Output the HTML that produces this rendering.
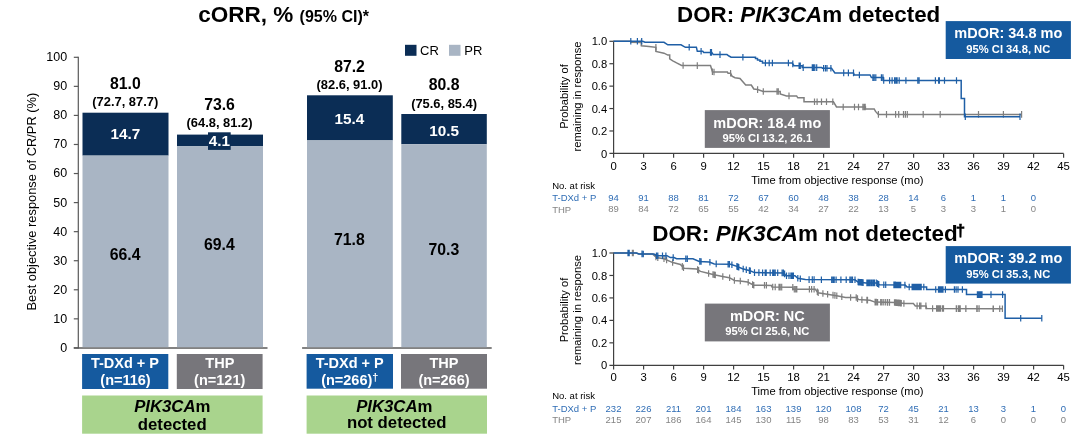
<!DOCTYPE html>
<html><head><meta charset="utf-8"><title>cORR and DOR by PIK3CAm status</title>
<style>
html,body{margin:0;padding:0;background:#fff;}
body{width:1080px;height:438px;overflow:hidden;}
svg{display:block;font-family:"Liberation Sans",Arial,Helvetica,sans-serif;}
</style></head><body>
<svg width="1080" height="438" viewBox="0 0 1080 438">
<rect width="1080" height="438" fill="#fff"/>
<text x="198.3" y="22" font-size="22.5" font-weight="bold" fill="#000">cORR, % <tspan font-size="16">(95% CI)*</tspan></text>
<rect x="405" y="44.8" width="11.5" height="11.0" fill="#0b2d55"/>
<text x="420" y="54.9" font-size="13" font-weight="normal" text-anchor="start" fill="#000">CR</text>
<rect x="449" y="44.8" width="11.5" height="11.0" fill="#a9b5c4"/>
<text x="464.3" y="54.9" font-size="13" font-weight="normal" text-anchor="start" fill="#000">PR</text>
<text transform="translate(36.4,201.6) rotate(-90)" font-size="12.85" text-anchor="middle" fill="#000">Best objective response of CR/PR (%)</text>
<text x="67.1" y="351.8" font-size="12.5" font-weight="normal" text-anchor="end" fill="#000">0</text>
<line x1="73.8" y1="347.90" x2="78.3" y2="347.90" stroke="#595959" stroke-width="1.2"/>
<text x="67.1" y="322.74" font-size="12.5" font-weight="normal" text-anchor="end" fill="#000">10</text>
<line x1="73.8" y1="318.84" x2="78.3" y2="318.84" stroke="#595959" stroke-width="1.2"/>
<text x="67.1" y="293.68" font-size="12.5" font-weight="normal" text-anchor="end" fill="#000">20</text>
<line x1="73.8" y1="289.78" x2="78.3" y2="289.78" stroke="#595959" stroke-width="1.2"/>
<text x="67.1" y="264.62" font-size="12.5" font-weight="normal" text-anchor="end" fill="#000">30</text>
<line x1="73.8" y1="260.72" x2="78.3" y2="260.72" stroke="#595959" stroke-width="1.2"/>
<text x="67.1" y="235.56" font-size="12.5" font-weight="normal" text-anchor="end" fill="#000">40</text>
<line x1="73.8" y1="231.66" x2="78.3" y2="231.66" stroke="#595959" stroke-width="1.2"/>
<text x="67.1" y="206.5" font-size="12.5" font-weight="normal" text-anchor="end" fill="#000">50</text>
<line x1="73.8" y1="202.60" x2="78.3" y2="202.60" stroke="#595959" stroke-width="1.2"/>
<text x="67.1" y="177.44" font-size="12.5" font-weight="normal" text-anchor="end" fill="#000">60</text>
<line x1="73.8" y1="173.54" x2="78.3" y2="173.54" stroke="#595959" stroke-width="1.2"/>
<text x="67.1" y="148.38" font-size="12.5" font-weight="normal" text-anchor="end" fill="#000">70</text>
<line x1="73.8" y1="144.48" x2="78.3" y2="144.48" stroke="#595959" stroke-width="1.2"/>
<text x="67.1" y="119.32" font-size="12.5" font-weight="normal" text-anchor="end" fill="#000">80</text>
<line x1="73.8" y1="115.42" x2="78.3" y2="115.42" stroke="#595959" stroke-width="1.2"/>
<text x="67.1" y="90.26" font-size="12.5" font-weight="normal" text-anchor="end" fill="#000">90</text>
<line x1="73.8" y1="86.36" x2="78.3" y2="86.36" stroke="#595959" stroke-width="1.2"/>
<text x="67.1" y="61.2" font-size="12.5" font-weight="normal" text-anchor="end" fill="#000">100</text>
<line x1="73.8" y1="57.30" x2="78.3" y2="57.30" stroke="#595959" stroke-width="1.2"/>
<line x1="78.3" y1="56.7" x2="78.3" y2="348.6" stroke="#595959" stroke-width="1.2"/>
<line x1="73.8" y1="347.9" x2="267.5" y2="347.9" stroke="#595959" stroke-width="1.5"/>
<line x1="302.1" y1="347.9" x2="491.7" y2="347.9" stroke="#595959" stroke-width="1.5"/>
<rect x="82.5" y="112.7" width="86.0" height="42.9" fill="#0b2d55"/>
<rect x="82.5" y="155.6" width="86.0" height="191.6" fill="#a9b5c4"/>
<rect x="177" y="134.6" width="86" height="11.7" fill="#0b2d55"/>
<rect x="177" y="146.3" width="86" height="200.9" fill="#a9b5c4"/>
<rect x="307" y="95.3" width="85.8" height="45.1" fill="#0b2d55"/>
<rect x="307" y="140.4" width="85.8" height="206.8" fill="#a9b5c4"/>
<rect x="401.3" y="114" width="85.5" height="30.2" fill="#0b2d55"/>
<rect x="401.3" y="144.2" width="85.5" height="203.0" fill="#a9b5c4"/>
<rect x="208" y="132.3" width="22.7" height="17.6" fill="#0b2d55"/>
<text x="125.3" y="89.19999999999999" font-size="15.8" font-weight="bold" text-anchor="middle" fill="#000">81.0</text>
<text x="125.3" y="106.1" font-size="12.9" font-weight="bold" text-anchor="middle" fill="#000">(72.7, 87.7)</text>
<text x="125.3" y="139.1" font-size="15.3" font-weight="bold" text-anchor="middle" fill="#fff">14.7</text>
<text x="125.1" y="259.7" font-size="15.8" font-weight="bold" text-anchor="middle" fill="#000">66.4</text>
<text x="219.5" y="109.5" font-size="15.8" font-weight="bold" text-anchor="middle" fill="#000">73.6</text>
<text x="219.5" y="127.3" font-size="12.9" font-weight="bold" text-anchor="middle" fill="#000">(64.8, 81.2)</text>
<text x="219.5" y="145.79999999999998" font-size="15.3" font-weight="bold" text-anchor="middle" fill="#fff">4.1</text>
<text x="219.3" y="249.9" font-size="15.8" font-weight="bold" text-anchor="middle" fill="#000">69.4</text>
<text x="349.5" y="71.5" font-size="15.8" font-weight="bold" text-anchor="middle" fill="#000">87.2</text>
<text x="349.5" y="89.1" font-size="12.9" font-weight="bold" text-anchor="middle" fill="#000">(82.6, 91.0)</text>
<text x="349.5" y="124.2" font-size="15.3" font-weight="bold" text-anchor="middle" fill="#fff">15.4</text>
<text x="349.3" y="245.1" font-size="15.8" font-weight="bold" text-anchor="middle" fill="#000">71.8</text>
<text x="444.1" y="90.0" font-size="15.8" font-weight="bold" text-anchor="middle" fill="#000">80.8</text>
<text x="444.1" y="107.8" font-size="12.9" font-weight="bold" text-anchor="middle" fill="#000">(75.6, 85.4)</text>
<text x="444.1" y="135.5" font-size="15.3" font-weight="bold" text-anchor="middle" fill="#fff">10.5</text>
<text x="443.90000000000003" y="255.3" font-size="15.8" font-weight="bold" text-anchor="middle" fill="#000">70.3</text>
<rect x="82.1" y="354" width="86.2" height="35" fill="#155a9f"/>
<rect x="176.8" y="354" width="85.8" height="35" fill="#77767b"/>
<rect x="306.6" y="354" width="86.4" height="34.7" fill="#155a9f"/>
<rect x="401" y="354" width="86" height="34.7" fill="#77767b"/>
<text x="125.0" y="368.1" font-size="14.5" font-weight="bold" text-anchor="middle" fill="#fff">T-DXd + P</text>
<text x="125.5" y="384.7" font-size="14.5" font-weight="bold" text-anchor="middle" fill="#fff">(n=116)</text>
<text x="219.8" y="368.1" font-size="14.5" font-weight="bold" text-anchor="middle" fill="#fff">THP</text>
<text x="219.7" y="384.7" font-size="14.5" font-weight="bold" text-anchor="middle" fill="#fff">(n=121)</text>
<text x="349.7" y="368.1" font-size="14.5" font-weight="bold" text-anchor="middle" fill="#fff">T-DXd + P</text>
<text x="349.8" y="384.7" font-size="14.5" font-weight="bold" text-anchor="middle" fill="#fff">(n=266)<tspan font-size="11" dy="-3.6">†</tspan></text>
<text x="444" y="368.1" font-size="14.5" font-weight="bold" text-anchor="middle" fill="#fff">THP</text>
<text x="444" y="384.7" font-size="14.5" font-weight="bold" text-anchor="middle" fill="#fff">(n=266)</text>
<rect x="82.1" y="395.5" width="180.5" height="38.2" fill="#a9d48d"/>
<rect x="306.6" y="395.5" width="180.4" height="38.2" fill="#a9d48d"/>
<text x="172.3" y="411.6" font-size="16.75" font-weight="bold" text-anchor="middle"><tspan font-style="italic">PIK3CA</tspan>m</text>
<text x="172.2" y="430.0" font-size="16.75" font-weight="bold" text-anchor="middle" fill="#000">detected</text>
<text x="394.3" y="411.6" font-size="16.75" font-weight="bold" text-anchor="middle"><tspan font-style="italic">PIK3CA</tspan>m</text>
<text x="396.7" y="428.1" font-size="16.75" font-weight="bold" text-anchor="middle" fill="#000">not detected</text>
<text x="677" y="22" font-size="22.35" font-weight="bold" fill="#000">DOR: <tspan font-style="italic">PIK3CA</tspan>m detected</text>
<line x1="613.6" y1="40.699999999999996" x2="613.6" y2="154.0" stroke="#404040" stroke-width="1.2"/>
<line x1="609.4" y1="153.4" x2="1063.6" y2="153.4" stroke="#404040" stroke-width="1.2"/>
<text x="607.2" y="157.5" font-size="11.2" font-weight="normal" text-anchor="end" fill="#000">0</text>
<line x1="609.4" y1="130.98" x2="613.6" y2="130.98" stroke="#404040" stroke-width="1.2"/>
<text x="607.2" y="135.08" font-size="11.2" font-weight="normal" text-anchor="end" fill="#000">0.2</text>
<line x1="609.4" y1="108.56" x2="613.6" y2="108.56" stroke="#404040" stroke-width="1.2"/>
<text x="607.2" y="112.66" font-size="11.2" font-weight="normal" text-anchor="end" fill="#000">0.4</text>
<line x1="609.4" y1="86.14" x2="613.6" y2="86.14" stroke="#404040" stroke-width="1.2"/>
<text x="607.2" y="90.24" font-size="11.2" font-weight="normal" text-anchor="end" fill="#000">0.6</text>
<line x1="609.4" y1="63.72" x2="613.6" y2="63.72" stroke="#404040" stroke-width="1.2"/>
<text x="607.2" y="67.82" font-size="11.2" font-weight="normal" text-anchor="end" fill="#000">0.8</text>
<line x1="609.4" y1="41.30" x2="613.6" y2="41.30" stroke="#404040" stroke-width="1.2"/>
<text x="607.2" y="45.4" font-size="11.2" font-weight="normal" text-anchor="end" fill="#000">1.0</text>
<line x1="613.6" y1="153.4" x2="613.6" y2="157.70000000000002" stroke="#404040" stroke-width="1.2"/>
<text x="613.6" y="170.0" font-size="11.3" font-weight="normal" text-anchor="middle" fill="#000">0</text>
<line x1="643.6" y1="153.4" x2="643.6" y2="157.70000000000002" stroke="#404040" stroke-width="1.2"/>
<text x="643.6" y="170.0" font-size="11.3" font-weight="normal" text-anchor="middle" fill="#000">3</text>
<line x1="673.6" y1="153.4" x2="673.6" y2="157.70000000000002" stroke="#404040" stroke-width="1.2"/>
<text x="673.6" y="170.0" font-size="11.3" font-weight="normal" text-anchor="middle" fill="#000">6</text>
<line x1="703.6" y1="153.4" x2="703.6" y2="157.70000000000002" stroke="#404040" stroke-width="1.2"/>
<text x="703.6" y="170.0" font-size="11.3" font-weight="normal" text-anchor="middle" fill="#000">9</text>
<line x1="733.6" y1="153.4" x2="733.6" y2="157.70000000000002" stroke="#404040" stroke-width="1.2"/>
<text x="733.6" y="170.0" font-size="11.3" font-weight="normal" text-anchor="middle" fill="#000">12</text>
<line x1="763.6" y1="153.4" x2="763.6" y2="157.70000000000002" stroke="#404040" stroke-width="1.2"/>
<text x="763.6" y="170.0" font-size="11.3" font-weight="normal" text-anchor="middle" fill="#000">15</text>
<line x1="793.6" y1="153.4" x2="793.6" y2="157.70000000000002" stroke="#404040" stroke-width="1.2"/>
<text x="793.6" y="170.0" font-size="11.3" font-weight="normal" text-anchor="middle" fill="#000">18</text>
<line x1="823.6" y1="153.4" x2="823.6" y2="157.70000000000002" stroke="#404040" stroke-width="1.2"/>
<text x="823.6" y="170.0" font-size="11.3" font-weight="normal" text-anchor="middle" fill="#000">21</text>
<line x1="853.6" y1="153.4" x2="853.6" y2="157.70000000000002" stroke="#404040" stroke-width="1.2"/>
<text x="853.6" y="170.0" font-size="11.3" font-weight="normal" text-anchor="middle" fill="#000">24</text>
<line x1="883.6" y1="153.4" x2="883.6" y2="157.70000000000002" stroke="#404040" stroke-width="1.2"/>
<text x="883.6" y="170.0" font-size="11.3" font-weight="normal" text-anchor="middle" fill="#000">27</text>
<line x1="913.6" y1="153.4" x2="913.6" y2="157.70000000000002" stroke="#404040" stroke-width="1.2"/>
<text x="913.6" y="170.0" font-size="11.3" font-weight="normal" text-anchor="middle" fill="#000">30</text>
<line x1="943.6" y1="153.4" x2="943.6" y2="157.70000000000002" stroke="#404040" stroke-width="1.2"/>
<text x="943.6" y="170.0" font-size="11.3" font-weight="normal" text-anchor="middle" fill="#000">33</text>
<line x1="973.6" y1="153.4" x2="973.6" y2="157.70000000000002" stroke="#404040" stroke-width="1.2"/>
<text x="973.6" y="170.0" font-size="11.3" font-weight="normal" text-anchor="middle" fill="#000">36</text>
<line x1="1003.6" y1="153.4" x2="1003.6" y2="157.70000000000002" stroke="#404040" stroke-width="1.2"/>
<text x="1003.6" y="170.0" font-size="11.3" font-weight="normal" text-anchor="middle" fill="#000">39</text>
<line x1="1033.6" y1="153.4" x2="1033.6" y2="157.70000000000002" stroke="#404040" stroke-width="1.2"/>
<text x="1033.6" y="170.0" font-size="11.3" font-weight="normal" text-anchor="middle" fill="#000">42</text>
<line x1="1063.6" y1="153.4" x2="1063.6" y2="157.70000000000002" stroke="#404040" stroke-width="1.2"/>
<text x="1063.6" y="170.0" font-size="11.3" font-weight="normal" text-anchor="middle" fill="#000">45</text>
<text x="837.4" y="183.9" font-size="11.2" font-weight="normal" text-anchor="middle" fill="#000">Time from objective response (mo)</text>
<text transform="translate(568.3,96.5) rotate(-90)" font-size="11.2" text-anchor="middle" fill="#000">Probability of</text>
<text transform="translate(580.7,96.5) rotate(-90)" font-size="11.2" text-anchor="middle" fill="#000">remaining in response</text>
<path d="M613.6,41.3 L630.8,41.3 L631.0,42.3 L641.4,42.6 L641.4,45.7 L649.0,46.5 L655.9,47.3 L655.9,51.4 L664.0,53.2 L667.8,55.1 L669.7,55.1 L669.7,58.9 L672.8,60.8 L676.6,62.9 L681.6,65.5 L710.5,65.6 L712.5,72.0 L727.4,72.0 L728.0,73.3 L730.6,73.3 L732.0,76.1 L735.0,77.7 L740.0,78.4 L745.7,85.0 L751.3,85.0 L753.8,89.0 L757.6,89.6 L763.3,91.5 L780.2,91.5 L780.2,94.0 L786.5,95.9 L796.6,95.9 L797.8,97.8 L804.0,97.8 L804.0,101.8 L833.4,101.8 L836.5,107.0 L865.4,107.0 L865.4,108.9 L874.2,108.9 L875.5,111.4 L878.4,114.4 L1021.6,114.4" fill="none" stroke="#7f7f7f" stroke-width="1.5" stroke-linejoin="miter"/>
<path d="M641.4,39.3V45.9M655.9,44.0V50.6M683.1,62.2V68.8M697.3,62.3V68.9M712.4,68.4V75.0M714.0,68.7V75.3M730.6,70.0V76.6M757.6,86.3V92.9M763.3,88.2V94.8M777.0,88.2V94.8M778.3,88.2V94.8M789.0,92.6V99.2M814.5,98.5V105.1M817.1,98.5V105.1M821.5,98.5V105.1M826.5,98.5V105.1M832.8,98.5V105.1M843.2,103.7V110.3M854.5,103.7V110.3M858.5,103.7V110.3M862.9,103.7V110.3M864.2,103.7V110.3M865.2,103.7V110.3M878.4,111.1V117.7M886.5,111.1V117.7M895.6,111.1V117.7M898.7,111.1V117.7M903.5,111.1V117.7M905.4,111.1V117.7M907.3,111.1V117.7M923.2,111.1V117.7M940.2,111.1V117.7M978.5,111.1V117.7M1003.4,111.1V117.7M1021.6,111.1V117.7" fill="none" stroke="#7f7f7f" stroke-width="1.2"/>
<path d="M613.6,41.3 L642.7,41.3 L645.0,42.3 L664.0,42.3 L667.8,44.8 L681.0,44.8 L685.4,47.3 L696.4,47.3 L697.3,51.3 L702.8,51.3 L703.7,52.4 L711.8,52.4 L713.3,54.6 L727.0,54.6 L729.0,56.0 L731.1,57.2 L753.8,57.2 L755.5,57.2 L755.5,58.5 L757.5,58.5 L757.5,60.0 L760.0,60.0 L760.0,61.3 L762.5,61.3 L762.5,63.0 L764.5,63.0 L792.2,63.0 L794.0,65.7 L802.2,65.7 L802.2,67.6 L821.7,67.6 L822.5,68.2 L831.5,68.2 L834.9,72.9 L853.5,72.9 L854.3,75.0 L870.1,75.0 L871.4,77.6 L883.3,77.6 L883.3,80.5 L961.2,80.5 L961.2,98.6 L964.5,98.6 L964.5,116.7 L1020.0,116.7" fill="none" stroke="#1f5fa6" stroke-width="1.5" stroke-linejoin="miter"/>
<path d="M630.8,38.0V44.6M637.4,38.0V44.6M641.7,38.0V44.6M689.2,44.0V50.6M701.1,48.0V54.6M710.5,49.1V55.7M711.5,49.1V55.7M720.0,51.3V57.9M742.9,53.9V60.5M765.4,59.7V66.3M769.2,59.7V66.3M772.4,59.7V66.3M788.4,59.7V66.3M792.8,60.6V67.2M799.1,62.4V69.0M800.3,62.4V69.0M803.2,64.3V70.9M812.3,64.3V70.9M813.5,64.3V70.9M814.8,64.3V70.9M816.7,64.3V70.9M823.6,64.9V71.5M825.5,64.9V71.5M827.0,64.9V71.5M830.9,64.9V71.5M843.7,69.6V76.2M848.4,69.6V76.2M853.5,69.6V76.2M859.4,71.7V78.3M872.9,74.3V80.9M874.2,74.3V80.9M875.8,74.3V80.9M881.4,74.3V80.9M882.9,74.3V80.9M883.7,77.2V83.8M889.6,77.2V83.8M892.1,77.2V83.8M894.6,77.2V83.8M895.9,77.2V83.8M897.1,77.2V83.8M899.2,77.2V83.8M905.9,77.2V83.8M917.8,77.2V83.8M919.1,77.2V83.8M935.4,77.2V83.8M938.6,77.2V83.8M939.4,77.2V83.8M944.5,77.2V83.8M956.5,77.2V83.8M965.3,113.4V120.0M1020.0,113.4V120.0" fill="none" stroke="#1f5fa6" stroke-width="1.2"/>
<rect x="945.7" y="21.1" width="125.2" height="37.9" fill="#155a9f"/>
<text x="1008.3000000000001" y="38.400000000000006" font-size="14.5" font-weight="bold" text-anchor="middle" fill="#fff">mDOR: 34.8 mo</text>
<text x="1008.3000000000001" y="52.800000000000004" font-size="11.2" font-weight="bold" text-anchor="middle" fill="#fff">95% CI 34.8, NC</text>
<rect x="704.8" y="110.1" width="125.1" height="37.8" fill="#77767b"/>
<text x="767.3499999999999" y="128.1" font-size="14.5" font-weight="bold" text-anchor="middle" fill="#fff">mDOR: 18.4 mo</text>
<text x="767.3499999999999" y="142.1" font-size="11.2" font-weight="bold" text-anchor="middle" fill="#fff">95% CI 13.2, 26.1</text>
<text x="552.2" y="188.8" font-size="9.5" font-weight="normal" text-anchor="start" fill="#000">No. at risk</text>
<text x="552.2" y="201" font-size="9.5" font-weight="normal" text-anchor="start" fill="#2f6db5">T-DXd + P</text>
<text x="552.2" y="212.7" font-size="9.5" font-weight="normal" text-anchor="start" fill="#848484">THP</text>
<text x="613.5" y="201" font-size="9.5" font-weight="normal" text-anchor="middle" fill="#2f6db5">94</text>
<text x="643.5" y="201" font-size="9.5" font-weight="normal" text-anchor="middle" fill="#2f6db5">91</text>
<text x="673.5" y="201" font-size="9.5" font-weight="normal" text-anchor="middle" fill="#2f6db5">88</text>
<text x="703.5" y="201" font-size="9.5" font-weight="normal" text-anchor="middle" fill="#2f6db5">81</text>
<text x="733.5" y="201" font-size="9.5" font-weight="normal" text-anchor="middle" fill="#2f6db5">72</text>
<text x="763.5" y="201" font-size="9.5" font-weight="normal" text-anchor="middle" fill="#2f6db5">67</text>
<text x="793.5" y="201" font-size="9.5" font-weight="normal" text-anchor="middle" fill="#2f6db5">60</text>
<text x="823.5" y="201" font-size="9.5" font-weight="normal" text-anchor="middle" fill="#2f6db5">48</text>
<text x="853.5" y="201" font-size="9.5" font-weight="normal" text-anchor="middle" fill="#2f6db5">38</text>
<text x="883.5" y="201" font-size="9.5" font-weight="normal" text-anchor="middle" fill="#2f6db5">28</text>
<text x="913.5" y="201" font-size="9.5" font-weight="normal" text-anchor="middle" fill="#2f6db5">14</text>
<text x="943.5" y="201" font-size="9.5" font-weight="normal" text-anchor="middle" fill="#2f6db5">6</text>
<text x="973.5" y="201" font-size="9.5" font-weight="normal" text-anchor="middle" fill="#2f6db5">1</text>
<text x="1003.5" y="201" font-size="9.5" font-weight="normal" text-anchor="middle" fill="#2f6db5">1</text>
<text x="1033.5" y="201" font-size="9.5" font-weight="normal" text-anchor="middle" fill="#2f6db5">0</text>
<text x="613.5" y="212.39999999999998" font-size="9.5" font-weight="normal" text-anchor="middle" fill="#848484">89</text>
<text x="643.5" y="212.39999999999998" font-size="9.5" font-weight="normal" text-anchor="middle" fill="#848484">84</text>
<text x="673.5" y="212.39999999999998" font-size="9.5" font-weight="normal" text-anchor="middle" fill="#848484">72</text>
<text x="703.5" y="212.39999999999998" font-size="9.5" font-weight="normal" text-anchor="middle" fill="#848484">65</text>
<text x="733.5" y="212.39999999999998" font-size="9.5" font-weight="normal" text-anchor="middle" fill="#848484">55</text>
<text x="763.5" y="212.39999999999998" font-size="9.5" font-weight="normal" text-anchor="middle" fill="#848484">42</text>
<text x="793.5" y="212.39999999999998" font-size="9.5" font-weight="normal" text-anchor="middle" fill="#848484">34</text>
<text x="823.5" y="212.39999999999998" font-size="9.5" font-weight="normal" text-anchor="middle" fill="#848484">27</text>
<text x="853.5" y="212.39999999999998" font-size="9.5" font-weight="normal" text-anchor="middle" fill="#848484">22</text>
<text x="883.5" y="212.39999999999998" font-size="9.5" font-weight="normal" text-anchor="middle" fill="#848484">13</text>
<text x="913.5" y="212.39999999999998" font-size="9.5" font-weight="normal" text-anchor="middle" fill="#848484">5</text>
<text x="943.5" y="212.39999999999998" font-size="9.5" font-weight="normal" text-anchor="middle" fill="#848484">3</text>
<text x="973.5" y="212.39999999999998" font-size="9.5" font-weight="normal" text-anchor="middle" fill="#848484">3</text>
<text x="1003.5" y="212.39999999999998" font-size="9.5" font-weight="normal" text-anchor="middle" fill="#848484">1</text>
<text x="1033.5" y="212.39999999999998" font-size="9.5" font-weight="normal" text-anchor="middle" fill="#848484">0</text>
<text x="652.2" y="240.9" font-size="22.45" font-weight="bold" fill="#000">DOR: <tspan font-style="italic">PIK3CA</tspan>m not detected<tspan font-size="17" dx="-2" dy="-4.5" stroke="#000" stroke-width="0.5">†</tspan></text>
<line x1="613.6" y1="252.4" x2="613.6" y2="365.90000000000003" stroke="#404040" stroke-width="1.2"/>
<line x1="609.4" y1="365.3" x2="1063.6" y2="365.3" stroke="#404040" stroke-width="1.2"/>
<text x="607.2" y="369.4" font-size="11.2" font-weight="normal" text-anchor="end" fill="#000">0</text>
<line x1="609.4" y1="342.84" x2="613.6" y2="342.84" stroke="#404040" stroke-width="1.2"/>
<text x="607.2" y="346.94" font-size="11.2" font-weight="normal" text-anchor="end" fill="#000">0.2</text>
<line x1="609.4" y1="320.38" x2="613.6" y2="320.38" stroke="#404040" stroke-width="1.2"/>
<text x="607.2" y="324.48" font-size="11.2" font-weight="normal" text-anchor="end" fill="#000">0.4</text>
<line x1="609.4" y1="297.92" x2="613.6" y2="297.92" stroke="#404040" stroke-width="1.2"/>
<text x="607.2" y="302.02" font-size="11.2" font-weight="normal" text-anchor="end" fill="#000">0.6</text>
<line x1="609.4" y1="275.46" x2="613.6" y2="275.46" stroke="#404040" stroke-width="1.2"/>
<text x="607.2" y="279.56" font-size="11.2" font-weight="normal" text-anchor="end" fill="#000">0.8</text>
<line x1="609.4" y1="253.00" x2="613.6" y2="253.00" stroke="#404040" stroke-width="1.2"/>
<text x="607.2" y="257.1" font-size="11.2" font-weight="normal" text-anchor="end" fill="#000">1.0</text>
<line x1="613.6" y1="365.3" x2="613.6" y2="369.6" stroke="#404040" stroke-width="1.2"/>
<text x="613.6" y="381.40000000000003" font-size="11.3" font-weight="normal" text-anchor="middle" fill="#000">0</text>
<line x1="643.6" y1="365.3" x2="643.6" y2="369.6" stroke="#404040" stroke-width="1.2"/>
<text x="643.6" y="381.40000000000003" font-size="11.3" font-weight="normal" text-anchor="middle" fill="#000">3</text>
<line x1="673.6" y1="365.3" x2="673.6" y2="369.6" stroke="#404040" stroke-width="1.2"/>
<text x="673.6" y="381.40000000000003" font-size="11.3" font-weight="normal" text-anchor="middle" fill="#000">6</text>
<line x1="703.6" y1="365.3" x2="703.6" y2="369.6" stroke="#404040" stroke-width="1.2"/>
<text x="703.6" y="381.40000000000003" font-size="11.3" font-weight="normal" text-anchor="middle" fill="#000">9</text>
<line x1="733.6" y1="365.3" x2="733.6" y2="369.6" stroke="#404040" stroke-width="1.2"/>
<text x="733.6" y="381.40000000000003" font-size="11.3" font-weight="normal" text-anchor="middle" fill="#000">12</text>
<line x1="763.6" y1="365.3" x2="763.6" y2="369.6" stroke="#404040" stroke-width="1.2"/>
<text x="763.6" y="381.40000000000003" font-size="11.3" font-weight="normal" text-anchor="middle" fill="#000">15</text>
<line x1="793.6" y1="365.3" x2="793.6" y2="369.6" stroke="#404040" stroke-width="1.2"/>
<text x="793.6" y="381.40000000000003" font-size="11.3" font-weight="normal" text-anchor="middle" fill="#000">18</text>
<line x1="823.6" y1="365.3" x2="823.6" y2="369.6" stroke="#404040" stroke-width="1.2"/>
<text x="823.6" y="381.40000000000003" font-size="11.3" font-weight="normal" text-anchor="middle" fill="#000">21</text>
<line x1="853.6" y1="365.3" x2="853.6" y2="369.6" stroke="#404040" stroke-width="1.2"/>
<text x="853.6" y="381.40000000000003" font-size="11.3" font-weight="normal" text-anchor="middle" fill="#000">24</text>
<line x1="883.6" y1="365.3" x2="883.6" y2="369.6" stroke="#404040" stroke-width="1.2"/>
<text x="883.6" y="381.40000000000003" font-size="11.3" font-weight="normal" text-anchor="middle" fill="#000">27</text>
<line x1="913.6" y1="365.3" x2="913.6" y2="369.6" stroke="#404040" stroke-width="1.2"/>
<text x="913.6" y="381.40000000000003" font-size="11.3" font-weight="normal" text-anchor="middle" fill="#000">30</text>
<line x1="943.6" y1="365.3" x2="943.6" y2="369.6" stroke="#404040" stroke-width="1.2"/>
<text x="943.6" y="381.40000000000003" font-size="11.3" font-weight="normal" text-anchor="middle" fill="#000">33</text>
<line x1="973.6" y1="365.3" x2="973.6" y2="369.6" stroke="#404040" stroke-width="1.2"/>
<text x="973.6" y="381.40000000000003" font-size="11.3" font-weight="normal" text-anchor="middle" fill="#000">36</text>
<line x1="1003.6" y1="365.3" x2="1003.6" y2="369.6" stroke="#404040" stroke-width="1.2"/>
<text x="1003.6" y="381.40000000000003" font-size="11.3" font-weight="normal" text-anchor="middle" fill="#000">39</text>
<line x1="1033.6" y1="365.3" x2="1033.6" y2="369.6" stroke="#404040" stroke-width="1.2"/>
<text x="1033.6" y="381.40000000000003" font-size="11.3" font-weight="normal" text-anchor="middle" fill="#000">42</text>
<line x1="1063.6" y1="365.3" x2="1063.6" y2="369.6" stroke="#404040" stroke-width="1.2"/>
<text x="1063.6" y="381.40000000000003" font-size="11.3" font-weight="normal" text-anchor="middle" fill="#000">45</text>
<text x="837.4" y="394.6" font-size="11.2" font-weight="normal" text-anchor="middle" fill="#000">Time from objective response (mo)</text>
<text transform="translate(568.3,310) rotate(-90)" font-size="11.2" text-anchor="middle" fill="#000">Probability of</text>
<text transform="translate(580.7,310) rotate(-90)" font-size="11.2" text-anchor="middle" fill="#000">remaining in response</text>
<path d="M613.6,253.0 L636.4,253.0 L638.9,253.9 L652.7,254.1 L656.5,257.6 L664.0,258.8 L672.8,262.6 L680.4,264.5 L684.1,268.3 L696.7,269.1 L700.5,271.4 L708.0,273.3 L713.0,274.5 L722.5,276.4 L729.4,277.7 L734.4,280.5 L740.0,281.0 L747.6,282.0 L753.8,285.2 L771.4,285.4 L772.0,287.0 L792.8,287.3 L792.8,289.2 L815.4,289.2 L817.9,292.7 L827.3,294.2 L838.0,295.9 L845.6,297.5 L856.2,297.5 L858.7,299.6 L870.0,300.3 L875.0,302.1 L895.0,302.5 L905.0,303.6 L913.4,303.6 L915.3,305.9 L926.0,305.9 L926.6,308.5 L1002.4,308.7" fill="none" stroke="#7f7f7f" stroke-width="1.5" stroke-linejoin="miter"/>
<path d="M632.4,249.7V256.3M633.3,249.7V256.3M655.9,253.7V260.3M657.8,254.5V261.1M664.0,255.5V262.1M666.6,256.6V263.2M672.6,259.2V265.8M682.3,263.1V269.7M683.5,264.4V271.0M697.6,266.3V272.9M698.6,266.9V273.5M708.6,270.2V276.8M713.0,271.2V277.8M714.3,271.5V278.1M715.3,271.7V278.3M722.8,273.2V279.8M729.6,274.5V281.1M734.4,277.2V283.8M740.3,277.7V284.3M748.2,279.0V285.6M752.6,281.3V287.9M753.8,281.9V288.5M764.5,282.0V288.6M766.4,282.0V288.6M772.7,283.7V290.3M775.2,283.7V290.3M779.0,283.8V290.4M780.2,283.8V290.4M781.7,283.8V290.4M792.8,284.0V290.6M794.3,285.9V292.5M795.7,285.9V292.5M796.8,285.9V292.5M809.4,285.9V292.5M811.6,285.9V292.5M814.1,285.9V292.5M817.3,288.5V295.1M818.2,289.4V296.0M822.9,290.2V296.8M827.6,290.9V297.5M833.0,291.8V298.4M834.9,292.1V298.7M836.8,292.4V299.0M841.8,293.4V300.0M850.6,294.2V300.8M856.2,294.2V300.8M857.5,295.3V301.9M861.9,296.5V303.1M867.5,296.8V303.4M866.9,296.8V303.4M875.1,298.8V305.4M876.3,298.8V305.4M877.6,298.9V305.5M880.7,298.9V305.5M882.0,298.9V305.5M883.8,299.0V305.6M885.7,299.0V305.6M887.6,299.1V305.7M889.5,299.1V305.7M894.5,299.2V305.8M895.3,299.2V305.8M896.0,299.3V305.9M896.8,299.4V306.0M897.5,299.5V306.1M898.3,299.6V306.2M899.0,299.6V306.2M899.8,299.7V306.3M900.6,299.8V306.4M901.3,299.9V306.5M903.9,300.2V306.8M917.1,302.6V309.2M919.6,302.6V309.2M920.9,302.6V309.2M925.9,302.6V309.2M932.6,305.2V311.8M936.6,305.2V311.8M937.4,305.2V311.8M938.1,305.2V311.8M938.9,305.2V311.8M939.6,305.2V311.8M940.4,305.2V311.8M943.5,305.2V311.8M956.7,305.3V311.9M958.6,305.3V311.9M960.2,305.3V311.9M965.9,305.3V311.9M977.2,305.3V311.9M979.1,305.3V311.9M993.1,305.4V312.0M940.6,305.2V311.8M942.5,305.2V311.8M956.3,305.3V311.9M958.8,305.3V311.9M960.0,305.3V311.9M965.8,305.3V311.9M976.8,305.3V311.9M979.0,305.3V311.9M993.4,305.4V312.0M999.7,305.4V312.0M1002.4,305.4V312.0" fill="none" stroke="#7f7f7f" stroke-width="1.2"/>
<path d="M613.6,253.0 L636.4,253.0 L638.9,253.9 L654.0,254.1 L656.5,255.7 L667.0,255.7 L670.3,257.6 L674.0,257.6 L676.6,258.8 L693.0,258.8 L699.2,261.4 L709.3,262.0 L714.3,263.9 L730.6,264.2 L736.9,266.4 L742.5,268.8 L750.0,270.7 L754.5,272.6 L784.0,272.9 L785.9,275.8 L795.0,275.8 L797.8,278.3 L805.4,279.6 L855.0,279.8 L858.0,282.0 L866.0,282.9 L876.3,282.9 L879.4,284.7 L905.2,285.1 L907.1,287.0 L926.6,287.0 L926.6,289.5 L966.5,289.5 L966.5,294.6 L1005.1,294.6 L1005.1,318.3 L1041.8,318.3" fill="none" stroke="#1f5fa6" stroke-width="1.5" stroke-linejoin="miter"/>
<path d="M628.0,249.7V256.3M629.2,249.7V256.3M642.0,250.6V257.2M643.3,250.7V257.3M656.5,252.4V259.0M657.8,252.4V259.0M662.5,252.4V259.0M665.9,252.4V259.0M673.2,254.3V260.9M685.8,255.5V262.1M687.3,255.5V262.1M699.8,258.1V264.7M701.1,258.2V264.8M709.9,258.9V265.5M716.2,260.6V267.2M728.1,260.9V267.5M729.4,260.9V267.5M731.9,261.4V268.0M737.5,263.4V270.0M738.8,263.9V270.5M736.9,263.1V269.7M738.1,263.6V270.2M743.2,265.7V272.3M746.3,266.5V273.1M749.4,267.3V273.9M750.3,267.5V274.1M754.5,269.3V275.9M758.9,269.3V275.9M762.6,269.4V276.0M765.2,269.4V276.0M766.2,269.4V276.0M770.2,269.5V276.1M772.7,269.5V276.1M773.9,269.5V276.1M775.2,269.5V276.1M777.7,269.5V276.1M782.1,269.6V276.2M783.4,269.6V276.2M784.6,270.6V277.2M786.5,272.5V279.1M789.0,272.5V279.1M790.9,272.5V279.1M791.5,272.5V279.1M792.2,272.5V279.1M792.8,272.5V279.1M793.4,272.5V279.1M797.8,275.0V281.6M800.3,275.4V282.0M809.1,276.3V282.9M812.3,276.3V282.9M814.1,276.3V282.9M821.4,276.4V283.0M831.7,276.4V283.0M833.0,276.4V283.0M834.2,276.4V283.0M836.1,276.4V283.0M840.9,276.4V283.0M846.2,276.5V283.1M849.9,276.5V283.1M851.2,276.5V283.1M852.5,276.5V283.1M855.0,276.5V283.1M858.1,278.7V285.3M858.7,278.8V285.4M859.4,278.9V285.5M860.0,278.9V285.5M860.6,279.0V285.6M861.3,279.1V285.7M861.9,279.1V285.7M862.5,279.2V285.8M863.1,279.3V285.9M867.5,279.6V286.2M868.8,279.6V286.2M866.9,279.6V286.2M868.1,279.6V286.2M869.4,279.6V286.2M870.7,279.6V286.2M871.9,279.6V286.2M873.2,279.6V286.2M874.4,279.6V286.2M876.3,279.6V286.2M877.6,280.3V286.9M878.8,281.1V287.7M883.8,281.5V288.1M885.7,281.5V288.1M893.9,281.6V288.2M894.6,281.6V288.2M895.4,281.6V288.2M896.2,281.7V288.3M896.9,281.7V288.3M897.7,281.7V288.3M898.4,281.7V288.3M899.2,281.7V288.3M899.9,281.7V288.3M900.7,281.7V288.3M904.9,281.8V288.4M909.2,283.7V290.3M912.1,283.7V290.3M913.1,283.7V290.3M914.1,283.7V290.3M915.1,283.7V290.3M916.1,283.7V290.3M917.1,283.7V290.3M918.1,283.7V290.3M919.1,283.7V290.3M920.2,283.7V290.3M921.2,283.7V290.3M923.8,283.7V290.3M935.7,286.2V292.8M938.5,286.2V292.8M939.2,286.2V292.8M940.0,286.2V292.8M940.8,286.2V292.8M941.5,286.2V292.8M942.3,286.2V292.8M943.0,286.2V292.8M945.4,286.2V292.8M954.4,286.2V292.8M956.1,286.2V292.8M958.0,286.2V292.8M962.4,286.2V292.8M977.4,291.3V297.9M978.2,291.3V297.9M978.9,291.3V297.9M979.7,291.3V297.9M980.5,291.3V297.9M981.2,291.3V297.9M982.0,291.3V297.9M991.0,291.3V297.9M1002.6,291.3V297.9M1020.7,315.0V321.6M1041.8,315.0V321.6" fill="none" stroke="#1f5fa6" stroke-width="1.2"/>
<rect x="945.7" y="246.1" width="125.2" height="37.5" fill="#155a9f"/>
<text x="1008.3000000000001" y="263.0" font-size="14.5" font-weight="bold" text-anchor="middle" fill="#fff">mDOR: 39.2 mo</text>
<text x="1008.3000000000001" y="277.8" font-size="11.2" font-weight="bold" text-anchor="middle" fill="#fff">95% CI 35.3, NC</text>
<rect x="704.8" y="303.6" width="125.1" height="37.8" fill="#77767b"/>
<text x="767.3499999999999" y="321.2" font-size="14.5" font-weight="bold" text-anchor="middle" fill="#fff">mDOR: NC</text>
<text x="767.3499999999999" y="335.20000000000005" font-size="11.2" font-weight="bold" text-anchor="middle" fill="#fff">95% CI 25.6, NC</text>
<text x="552.2" y="399.3" font-size="9.5" font-weight="normal" text-anchor="start" fill="#000">No. at risk</text>
<text x="552.2" y="411.8" font-size="9.5" font-weight="normal" text-anchor="start" fill="#2f6db5">T-DXd + P</text>
<text x="552.2" y="423.3" font-size="9.5" font-weight="normal" text-anchor="start" fill="#848484">THP</text>
<text x="613.5" y="411.8" font-size="9.5" font-weight="normal" text-anchor="middle" fill="#2f6db5">232</text>
<text x="643.5" y="411.8" font-size="9.5" font-weight="normal" text-anchor="middle" fill="#2f6db5">226</text>
<text x="673.5" y="411.8" font-size="9.5" font-weight="normal" text-anchor="middle" fill="#2f6db5">211</text>
<text x="703.5" y="411.8" font-size="9.5" font-weight="normal" text-anchor="middle" fill="#2f6db5">201</text>
<text x="733.5" y="411.8" font-size="9.5" font-weight="normal" text-anchor="middle" fill="#2f6db5">184</text>
<text x="763.5" y="411.8" font-size="9.5" font-weight="normal" text-anchor="middle" fill="#2f6db5">163</text>
<text x="793.5" y="411.8" font-size="9.5" font-weight="normal" text-anchor="middle" fill="#2f6db5">139</text>
<text x="823.5" y="411.8" font-size="9.5" font-weight="normal" text-anchor="middle" fill="#2f6db5">120</text>
<text x="853.5" y="411.8" font-size="9.5" font-weight="normal" text-anchor="middle" fill="#2f6db5">108</text>
<text x="883.5" y="411.8" font-size="9.5" font-weight="normal" text-anchor="middle" fill="#2f6db5">72</text>
<text x="913.5" y="411.8" font-size="9.5" font-weight="normal" text-anchor="middle" fill="#2f6db5">45</text>
<text x="943.5" y="411.8" font-size="9.5" font-weight="normal" text-anchor="middle" fill="#2f6db5">21</text>
<text x="973.5" y="411.8" font-size="9.5" font-weight="normal" text-anchor="middle" fill="#2f6db5">13</text>
<text x="1003.5" y="411.8" font-size="9.5" font-weight="normal" text-anchor="middle" fill="#2f6db5">3</text>
<text x="1033.5" y="411.8" font-size="9.5" font-weight="normal" text-anchor="middle" fill="#2f6db5">1</text>
<text x="1063.5" y="411.8" font-size="9.5" font-weight="normal" text-anchor="middle" fill="#2f6db5">0</text>
<text x="613.5" y="423.0" font-size="9.5" font-weight="normal" text-anchor="middle" fill="#848484">215</text>
<text x="643.5" y="423.0" font-size="9.5" font-weight="normal" text-anchor="middle" fill="#848484">207</text>
<text x="673.5" y="423.0" font-size="9.5" font-weight="normal" text-anchor="middle" fill="#848484">186</text>
<text x="703.5" y="423.0" font-size="9.5" font-weight="normal" text-anchor="middle" fill="#848484">164</text>
<text x="733.5" y="423.0" font-size="9.5" font-weight="normal" text-anchor="middle" fill="#848484">145</text>
<text x="763.5" y="423.0" font-size="9.5" font-weight="normal" text-anchor="middle" fill="#848484">130</text>
<text x="793.5" y="423.0" font-size="9.5" font-weight="normal" text-anchor="middle" fill="#848484">115</text>
<text x="823.5" y="423.0" font-size="9.5" font-weight="normal" text-anchor="middle" fill="#848484">98</text>
<text x="853.5" y="423.0" font-size="9.5" font-weight="normal" text-anchor="middle" fill="#848484">83</text>
<text x="883.5" y="423.0" font-size="9.5" font-weight="normal" text-anchor="middle" fill="#848484">53</text>
<text x="913.5" y="423.0" font-size="9.5" font-weight="normal" text-anchor="middle" fill="#848484">31</text>
<text x="943.5" y="423.0" font-size="9.5" font-weight="normal" text-anchor="middle" fill="#848484">12</text>
<text x="973.5" y="423.0" font-size="9.5" font-weight="normal" text-anchor="middle" fill="#848484">6</text>
<text x="1003.5" y="423.0" font-size="9.5" font-weight="normal" text-anchor="middle" fill="#848484">0</text>
<text x="1033.5" y="423.0" font-size="9.5" font-weight="normal" text-anchor="middle" fill="#848484">0</text>
<text x="1063.5" y="423.0" font-size="9.5" font-weight="normal" text-anchor="middle" fill="#848484">0</text>
</svg>
</body></html>
